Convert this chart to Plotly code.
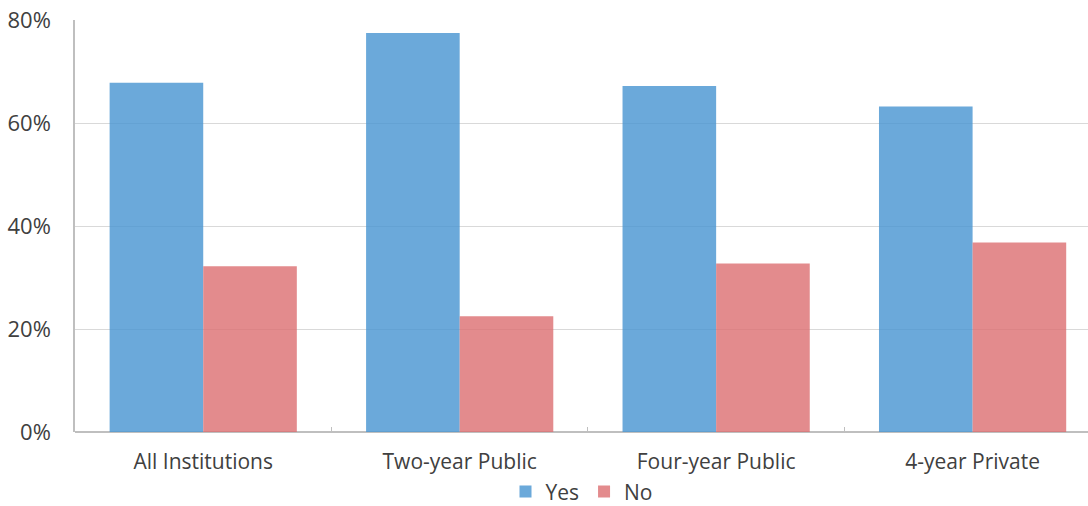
import plotly.graph_objects as go

categories = ["All Institutions", "Two-year Public", "Four-year Public", "4-year Private"]
yes_values = [0.678, 0.775, 0.672, 0.632]
no_values = [0.322, 0.225, 0.327, 0.368]
y_ticks = [0, 0.2, 0.4, 0.6, 0.8]
y_tick_labels = ["0%", "20%", "40%", "60%", "80%"]

font = "Open Sans"

fig = go.Figure()
fig.add_trace(go.Bar(
    x=categories, y=yes_values, name="Yes",
    marker=dict(color="rgba(74,150,210,0.82)", line=dict(width=0)),
))
fig.add_trace(go.Bar(
    x=categories, y=no_values, name="No",
    marker=dict(color="rgba(220,110,113,0.8)", line=dict(width=0)),
))

fig.update_layout(
    width=1088, height=506,
    margin=dict(l=75, r=0, t=20, b=74, autoexpand=False),
    paper_bgcolor="white", plot_bgcolor="white",
    barmode="group", bargap=0.27, bargroupgap=0,
    font=dict(family=font, color="#404040"),
    showlegend=True,
    legend=dict(
        orientation="h", x=0.5, xanchor="center", y=-0.145, yanchor="middle",
        font=dict(size=21, family=font, color="#404040"),
        itemwidth=30, tracegroupgap=0, borderwidth=0,
    ),
    xaxis=dict(
        type="category", range=[-0.5, 3.45], automargin=False,
        tickson="boundaries", ticks="inside", ticklen=5, tickcolor="#bfbfbf",
        tickwidth=1, ticklabelstandoff=15,
        showgrid=False, showline=False,
        tickfont=dict(size=21, family=font, color="#404040"),
    ),
    yaxis=dict(
        range=[0, 0.8], tickvals=y_ticks, ticktext=y_tick_labels, automargin=False,
        showgrid=True, gridcolor="#d9d9d9", gridwidth=1,
        showline=True, linecolor="#bfbfbf", linewidth=1.5,
        zeroline=True, zerolinecolor="#bfbfbf", zerolinewidth=2,
        ticks="", ticklabelstandoff=18, ticklabeloverflow="allow",
        tickfont=dict(size=22, family=font, color="#404040"),
    ),
)

fig.write_html(
    "out.html",
    config={"displayModeBar": False},
    post_script="document.body.style.margin='0';document.body.style.overflow='hidden';",
)
